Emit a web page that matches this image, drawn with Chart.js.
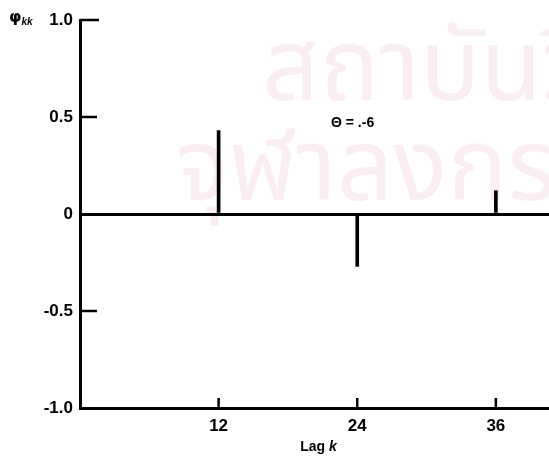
<!DOCTYPE html>
<html>
<head>
<meta charset="utf-8">
<script src="https://cdn.jsdelivr.net/npm/chart.js@4.4.0/dist/chart.umd.min.js"></script>
<style>
  html, body { margin: 0; padding: 0; background: #fff; }
  #wrap { width: 549px; height: 463px; position: relative; }
</style>
</head>
<body>
<div id="wrap"><canvas id="c"></canvas></div>
<script>
// ---- data ----
const lags = [12, 24, 36];
const pacf = [0.43, -0.27, 0.12];
const xTicks = [12, 24, 36];
const yTicks = [-1, -0.5, 0, 0.5, 1];
const yTickLabels = ['-1.0', '-0.5', '0', '0.5', '1.0'];
const annotationText = 'Θ = .-6';
const watermarkLines = ['สถาบันวิทยบริการ', 'จุฬาลงกรณ์มหาวิทยาลัย'];

const FONT = '"Liberation Sans", Arial, Helvetica, sans-serif';

const decor = {
  id: 'decor',
  beforeDraw(chart) {
    const ctx = chart.ctx;
    ctx.save();
    ctx.fillStyle = '#fff';
    ctx.fillRect(0, 0, chart.width, chart.height);
    // faint watermark
    ctx.fillStyle = '#fbeef3';
    ctx.font = '100px "Noto Sans Thai", "Noto Sans", sans-serif';
    ctx.textBaseline = 'alphabetic';
    ctx.textAlign = 'left';
    ctx.fillText(watermarkLines[0], 262, 100);
    ctx.fillText(watermarkLines[1], 176, 200);
    ctx.restore();
  },
  afterDraw(chart) {
    const ctx = chart.ctx;
    const xs = chart.scales.x, ys = chart.scales.y;
    const area = chart.chartArea;
    ctx.save();
    ctx.strokeStyle = '#000';
    ctx.lineWidth = 2.5;
    // inside ticks on y axis
    [1, 0.5, -0.5].forEach(v => {
      const y = ys.getPixelForValue(v);
      ctx.beginPath();
      ctx.moveTo(area.left, y);
      ctx.lineTo(area.left + (v === 1 ? 19 : 17), y);
      ctx.stroke();
    });
    // inside ticks on x axis
    xTicks.forEach(v => {
      const x = xs.getPixelForValue(v);
      ctx.beginPath();
      ctx.moveTo(x, area.bottom);
      ctx.lineTo(x, area.bottom - 10);
      ctx.stroke();
    });
    ctx.fillStyle = '#000';
    // annotation
    ctx.font = 'bold 14px ' + FONT;
    ctx.textAlign = 'center';
    ctx.textBaseline = 'middle';
    ctx.fillText(annotationText, xs.getPixelForValue(23.6), ys.getPixelForValue(0.47));
    // x title "Lag k"
    const cx = (area.left + area.right) / 2 + 4;
    const ty = 447;
    ctx.textAlign = 'left';
    ctx.font = 'bold 14px ' + FONT;
    const w1 = ctx.measureText('Lag ').width;
    ctx.font = 'italic bold 14px ' + FONT;
    const w2 = ctx.measureText('k').width;
    const start = cx - (w1 + w2) / 2;
    ctx.font = 'bold 14px ' + FONT;
    ctx.fillText('Lag ', start, ty);
    ctx.font = 'italic bold 14px ' + FONT;
    ctx.fillText('k', start + w1, ty);
    // y title phi_kk
    ctx.font = 'bold 16px "DejaVu Sans", ' + FONT;
    ctx.fillText('φ', 9, 18);
    const pw = ctx.measureText('φ').width;
    ctx.font = 'italic bold 10px ' + FONT;
    ctx.fillText('kk', 9 + pw, 22);
    ctx.restore();
  }
};

new Chart(document.getElementById('c'), {
  type: 'bar',
  data: {
    datasets: [{
      data: lags.map((x, i) => ({ x: x, y: pacf[i] })),
      backgroundColor: '#000',
      borderWidth: 0,
      barThickness: 3
    }]
  },
  options: {
    responsive: true,
    maintainAspectRatio: false,
    animation: false,
    events: [],
    layout: { padding: { top: 20, right: 0, left: 0, bottom: 0 } },
    plugins: { legend: { display: false }, tooltip: { enabled: false } },
    scales: {
      x: {
        type: 'linear',
        offset: false,
        min: 0,
        max: 40.6,
        afterBuildTicks: s => { s.ticks = xTicks.map(v => ({ value: v })); },
        afterFit: s => { s.height = 55; },
        grid: { display: false, drawTicks: false, offset: false },
        border: { display: true, color: '#000', width: 3 },
        ticks: {
          color: '#000',
          padding: 8,
          font: { family: FONT, size: 17, weight: 'bold' },
          maxRotation: 0,
          callback: v => String(v)
        }
      },
      y: {
        min: -1,
        max: 1,
        afterBuildTicks: s => { s.ticks = yTicks.map(v => ({ value: v })); },
        afterFit: s => { s.width = 80; },
        grid: {
          drawTicks: false,
          color: c => (c.tick && c.tick.value === 0) ? '#000' : 'rgba(0,0,0,0)',
          lineWidth: c => (c.tick && c.tick.value === 0) ? 3 : 0
        },
        border: { display: true, color: '#000', width: 3 },
        ticks: {
          color: '#000',
          padding: 7,
          font: { family: FONT, size: 17, weight: 'bold' },
          callback: v => {
            const i = yTicks.indexOf(v);
            return i >= 0 ? yTickLabels[i] : '';
          }
        }
      }
    }
  },
  plugins: [decor]
});
</script>
</body>
</html>
